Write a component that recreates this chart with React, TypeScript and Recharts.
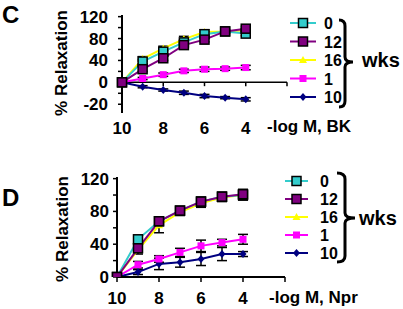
import { LineChart, Line, XAxis, YAxis, ErrorBar, ReferenceLine } from "recharts";

// -log M concentrations
const xs = [10, 9, 8, 7, 6, 5, 4];
const legendNames = ["0", "12", "16", "1", "10"];

// panel C (BK)
const c0 = [0, 38, 56, 73, 88, 93, 89];
const c12 = [0, 24, 44, 68, 78, 93, 98];
const c16 = [0, 43, 62, 79, 92, 93, 95];
const c1 = [0, 7, 14, 21, 24, 25, 27];
const c10 = [0, -8, -14, -19, -25, -28, -31];
const c0e = [0, 4, 4, 5, 4, 3, 4];
const c12e = [0, 4, 4, 4, 4, 3, 4];
const c16e = [0, 4, 4, 5, 4, 3, 4];
const c1e = [0, 2, 3, 3, 4, 3, 4];
const c10e = [0, 2, 2, 3, 3, 2, 3];

// panel D (Npr)
const d0 = [0, 46, 68, 81, 92, 98, 100];
const d12 = [0, 35, 68, 81, 92, 98, 101];
const d16 = [0, 33, 63, 79, 90, 97, 100];
const d1 = [0, 15, 22, 30, 38, 42, 46];
const d10 = [0, 6, 16, 18, 22, 28, 28];
const d0e = [0, 4, 4, 4, 5, 5, 6];
const d12e = [0, 4, 4, 4, 5, 5, 6];
const d16e = [0, 5, 9, 4, 5, 5, 6];
const d1e = [0, 4, 4, 5, 7, 4, 6];
const d10e = [0, 3, 7, 6, 8, 8, 3];

// y ticks every 20; labelled ticks as printed on the original axes
const yTicksC = [-40, -20, 0, 20, 40, 60, 80, 100, 120];
const yLabelsC: Record<number, string> = { 120: "120", 80: "80", 40: "40", 0: "0", [-40]: "-20" };
const yTicksD = [0, 20, 40, 60, 80, 100, 120];
const yLabelsD: Record<number, string> = { 120: "120", 80: "80", 40: "40", 0: "0" };
const xTicks = [10, 8, 6, 4, 2];
const xLabels = [10, 8, 6, 4];

const series = [
  { key: "w0", color: "#33CCCC", shape: "square", border: true },
  { key: "w12", color: "#800080", shape: "square", border: true },
  { key: "w16", color: "#FFFF00", shape: "triangle", border: false },
  { key: "w1", color: "#FF00FF", shape: "square", border: false },
  { key: "w10", color: "#000080", shape: "diamond", border: false },
];
const drawOrder = ["w10", "w1", "w16", "w0", "w12"];

function buildRows(vals: number[][], errs: number[][]) {
  return xs.map((x, i) => {
    const row: any = { x };
    series.forEach((s, j) => {
      row[s.key] = vals[j][i];
      row[s.key + "e"] = errs[j][i];
    });
    return row;
  });
}

const rowsC = buildRows([c0, c12, c16, c1, c10], [c0e, c12e, c16e, c1e, c10e]);
const rowsD = buildRows([d0, d12, d16, d1, d10], [d0e, d12e, d16e, d1e, d10e]);

function Marker(p: { cx: number; cy: number; shape: string; fill: string; border: boolean }) {
  const { cx, cy, shape, fill, border } = p;
  if (cx == null || cy == null) return null;
  if (shape === "square") {
    const r = border ? 4.5 : 3.5;
    return (
      <rect x={cx - r} y={cy - r} width={r * 2} height={r * 2} fill={fill}
        stroke={border ? "#000" : "none"} strokeWidth={1.5} />
    );
  }
  if (shape === "triangle") {
    return <polygon points={`${cx},${cy - 4} ${cx + 4},${cy + 3} ${cx - 4},${cy + 3}`} fill={fill} />;
  }
  return <polygon points={`${cx},${cy - 4} ${cx + 3.5},${cy} ${cx},${cy + 4} ${cx - 3.5},${cy}`} fill={fill} />;
}

const tickFont = { fontSize: 17, fontWeight: 700, fill: "#000", fontFamily: "Liberation Sans, Arial, sans-serif" };

function Panel(props: {
  rows: any[]; height: number; top: number; bottom: number; axisX: number; right: number;
  domain: [number, number]; yTicks: number[]; yLabels: Record<number, string>; tickMargin: number;
  zeroAxis: boolean; xTickOffset: number;
}) {
  const { rows, height, top, bottom, axisX, domain, yTicks, yLabels, tickMargin, zeroAxis } = props;
  return (
    <LineChart width={403} height={height} data={rows}
      margin={{ top, right: 403 - props.right, bottom: bottom - 1, left: 0 }}>
      <XAxis type="number" dataKey="x" domain={[2, 10]} reversed ticks={xTicks} height={1}
        tickFormatter={(v) => (xLabels.includes(v) ? String(v) : "")}
        axisLine={zeroAxis ? false : { stroke: "#000", strokeWidth: 2 }}
        tickLine={zeroAxis ? false : { stroke: "#000", strokeWidth: 1.5 }}
        tickSize={zeroAxis ? 0 : 5} tickMargin={props.xTickOffset}
        tick={tickFont} interval={0} />
      <YAxis type="number" domain={domain} ticks={yTicks} width={axisX}
        allowDataOverflow interval={0}
        tickFormatter={(v) => yLabels[v] ?? ""}
        axisLine={{ stroke: "#000", strokeWidth: 2 }}
        tickLine={{ stroke: "#000", strokeWidth: 1.5 }}
        tickSize={4} tickMargin={tickMargin} tick={tickFont} />
      {zeroAxis && <ReferenceLine y={0} stroke="#000" strokeWidth={1.5} />}
      {zeroAxis &&
        xTicks.slice(1).map((t) => (
          <ReferenceLine key={t} segment={[{ x: t, y: 0 }, { x: t, y: -7 }]} stroke="#000" strokeWidth={1.5} />
        ))}
      {drawOrder.map((k) => {
        const s = series.find((q) => q.key === k)!;
        return (
          <Line key={k} dataKey={k} stroke={s.color} strokeWidth={2} isAnimationActive={false}
            dot={(dp: any) => (
              <Marker key={dp.index} cx={dp.cx} cy={dp.cy} shape={s.shape} fill={s.color} border={s.border} />
            )}>
            <ErrorBar dataKey={k + "e"} width={5} stroke="#000" strokeWidth={1.5} direction="y" />
          </Line>
        );
      })}
    </LineChart>
  );
}

function Brace(p: { x0: number; xv: number; xt: number; yT: number; yM: number; yB: number }) {
  const { x0, xv, xt, yT, yM, yB } = p;
  const d = `M ${x0} ${yT} Q ${xv} ${yT} ${xv} ${yT + 6} L ${xv} ${yM - 5} Q ${xv} ${yM} ${xt} ${yM} Q ${xv} ${yM} ${xv} ${yM + 5} L ${xv} ${yB - 6} Q ${xv} ${yB} ${x0} ${yB}`;
  return <path d={d} fill="none" stroke="#000" strokeWidth={3} />;
}

function LegendBlock(p: { y0: number; step: number; lx1: number; lx2: number; tx: number }) {
  const { y0, step, lx1, lx2, tx } = p;
  return (
    <g>
      {series.map((s, i) => {
        const y = y0 + i * step;
        const mx = (lx1 + lx2) / 2;
        return (
          <g key={s.key}>
            <line x1={lx1} x2={lx2} y1={y} y2={y} stroke={s.color} strokeWidth={2} />
            <Marker cx={mx} cy={y} shape={s.shape} fill={s.color} border={s.border} />
            <text x={tx} y={y + 6} style={{ ...tickFont, fontSize: 16 }}>{legendNames[i]}</text>
          </g>
        );
      })}
    </g>
  );
}

export default function App() {
  const font = "Liberation Sans, Arial, sans-serif";
  return (
    <div style={{ position: "absolute", left: 0, top: 0, width: 403, height: 309, background: "#fff", fontFamily: font }}>
      <div style={{ position: "absolute", left: 0, top: 0 }}>
        <Panel rows={rowsC} height={155} top={15} bottom={42} axisX={122} right={287} domain={[-56, 123]}
          yTicks={yTicksC} yLabels={yLabelsC} tickMargin={10} zeroAxis xTickOffset={9} />
      </div>
      <div style={{ position: "absolute", left: 0, top: 155 }}>
        <Panel rows={rowsD} height={154} top={22} bottom={32} axisX={117} right={285} domain={[0, 122]}
          yTicks={yTicksD} yLabels={yLabelsD} tickMargin={4} zeroAxis={false} xTickOffset={10} />
      </div>
      <svg width={403} height={309} style={{ position: "absolute", left: 0, top: 0, pointerEvents: "none" }}
        fontFamily={font} fontWeight={700}>
        <text x={2} y={23} fontSize={24}>C</text>
        <text x={2} y={206} fontSize={24}>D</text>
        <text x={61} y={63} fontSize={17} textAnchor="middle" dominantBaseline="central"
          transform="rotate(-90 61 63)">% Relaxation</text>
        <text x={62} y={229} fontSize={17} textAnchor="middle" dominantBaseline="central"
          transform="rotate(-90 62 229)">% Relaxation</text>
        <text x={267} y={132} fontSize={17}>-log M, BK</text>
        <text x={269} y={303} fontSize={17}>-log M, Npr</text>
        <LegendBlock y0={23} step={18.5} lx1={290} lx2={316} tx={324} />
        <LegendBlock y0={181} step={18} lx1={285} lx2={308} tx={320} />
        <Brace x0={339} xv={345} xt={353} yT={20} yM={62} yB={107} />
        <Brace x0={337} xv={345} xt={355} yT={173} yM={218} yB={262} />
        <text x={362} y={67} fontSize={20}>wks</text>
        <text x={359} y={225} fontSize={20}>wks</text>
      </svg>
    </div>
  );
}
